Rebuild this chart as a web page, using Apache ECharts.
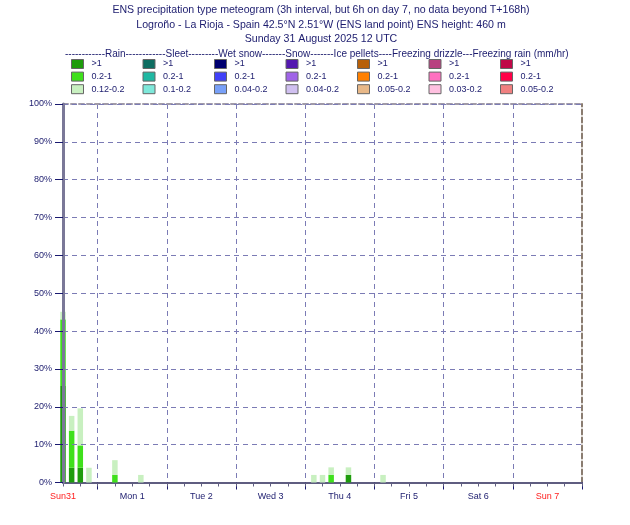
<!DOCTYPE html>
<html>
<head>
<meta charset="utf-8">
<script src="https://cdn.jsdelivr.net/npm/echarts@6/dist/echarts.min.js"></script>
<style>
  html, body { margin: 0; padding: 0; background: #fff; }
  #chart { width: 630px; height: 525px; }
</style>
</head>
<body>
<div id="chart"></div>
<script>
(function () {
    "use strict";
    // hours after Sunday 31 August 12 UTC
    var times = [0, 3, 6, 9, 18, 27, 87, 90, 93, 99, 111];
    // % of members, thickness of each band
    var rainHeavy = [25.5, 3.9, 3.9, 0, 0, 0, 0, 0, 0, 2.0, 0];
    var rainModerate = [17.6, 9.8, 5.9, 0, 2.0, 0, 0, 0, 2.0, 0, 0];
    var rainLight = [2.0, 3.9, 9.8, 3.9, 3.9, 2.0, 2.0, 2.0, 2.0, 2.0, 2.0];
    var dayLabels = ['Sun31', 'Mon 1', 'Tue 2', 'Wed 3', 'Thu 4', 'Fri 5', 'Sat 6', 'Sun 7'];
    var yTicks = [0, 10, 20, 30, 40, 50, 60, 70, 80, 90, 100];

    var types = ['Rain', 'Sleet', 'Wet snow', 'Snow', 'Ice pellets', 'Freezing drizzle', 'Freezing rain'];
    var classLabels = [
        ['>1', '0.2-1', '0.12-0.2'],
        ['>1', '0.2-1', '0.1-0.2'],
        ['>1', '0.2-1', '0.04-0.2'],
        ['>1', '0.2-1', '0.04-0.2'],
        ['>1', '0.2-1', '0.05-0.2'],
        ['>1', '0.2-1', '0.03-0.2'],
        ['>1', '0.2-1', '0.05-0.2']
    ];
    var classColors = [
        ['#1e9c0c', '#3fe01c', '#c8f0c0'],
        ['#0e6e62', '#1fb8a2', '#7ee8da'],
        ['#000070', '#4040f8', '#78a0f8'],
        ['#5418b0', '#a064e8', '#d0c0f0'],
        ['#b86008', '#ff8000', '#e8b888'],
        ['#b84080', '#ff70c0', '#ffc0e0'],
        ['#c00848', '#ff0048', '#f08080']
    ];
    var rainData = [rainHeavy, rainModerate, rainLight];

    var navy = '#1c1c6e';
    var font = 'Liberation Sans';

    // 3-hourly slots over the axis (Sun 12 UTC .. Mon 8 00 UTC)
    var slots = [];
    for (var h = 0; h <= 180; h += 3) slots.push(h);
    function toSlots(vals) {
        var out = slots.map(function () { return 0; });
        times.forEach(function (t, i) { out[t / 3] = vals[i]; });
        return out;
    }
    function isMidnight(i, v) { return +v % 24 === 12; }

    var series = [];
    var legends = [];
    for (var k = 0; k < types.length; k++) {
        var names = [];
        for (var c = 0; c < 3; c++) {
            var nm = types[k] + '|' + classLabels[k][c];
            names.push(nm);
            series.push({
                name: nm,
                type: 'bar',
                stack: 'all',
                xAxisIndex: 0,
                yAxisIndex: 0,
                barWidth: 5.5,
                itemStyle: { color: classColors[k][c] },
                data: k === 0 ? toSlots(rainData[c]) : []
            });
        }
        legends.push({
            orient: 'vertical',
            left: 71 + 71.5 * k,
            top: 59,
            padding: 0,
            itemGap: 2.6,
            itemWidth: 12,
            itemHeight: 9,
            icon: 'rect',
            selectedMode: false,
            itemStyle: { borderColor: '#666', borderWidth: 1 },
            textStyle: { fontSize: 9, fontFamily: font, color: navy, lineHeight: 9, padding: [0, 0, 0, 3] },
            formatter: function (name) { return name.split('|')[1]; },
            data: names
        });
    }

    var chart = echarts.init(document.getElementById('chart'));
    var option = {
        animation: false,
        backgroundColor: '#fff',
        title: [{
            text: 'ENS precipitation type meteogram (3h interval, but 6h on day 7, no data beyond T+168h)\n' +
                'Logroño - La Rioja - Spain 42.5°N 2.51°W (ENS land point) ENS height: 460 m\n' +
                'Sunday 31 August 2025 12 UTC',
            left: 321,
            textAlign: 'center',
            top: 3,
            padding: 0,
            textStyle: { fontSize: 10.6, fontWeight: 'normal', fontFamily: font, color: navy, lineHeight: 14.5 }
        }, {
            text: '------------Rain------------Sleet---------Wet snow-------Snow-------Ice pellets----Freezing drizzle---Freezing rain (mm/hr)',
            left: 65,
            top: 49,
            padding: 0,
            textStyle: { fontSize: 10, fontWeight: 'normal', fontFamily: font, color: navy }
        }],
        legend: legends,
        grid: { left: 63, right: 48, top: 104, bottom: 42.5 },
        xAxis: [{
            type: 'category', position: 'bottom', boundaryGap: false,
            data: slots,
            axisLine: { show: true, lineStyle: { color: '#5f5d80', width: 2 } },
            axisTick: { show: false },
            splitLine: { show: false },
            axisLabel: {
                margin: 10, fontSize: 9, fontFamily: font,
                interval: function (i, v) { return +v % 24 === 0 && +v <= 168; },
                formatter: function (v) { return dayLabels[v / 24]; },
                color: function (v) { return (+v === 0 || +v === 168) ? '#ff2020' : navy; }
            }
        }, {
            // day boundaries (00 UTC)
            type: 'category', position: 'bottom', boundaryGap: false,
            data: slots,
            axisLine: { show: false, onZero: false },
            axisTick: { show: true, length: 7, interval: isMidnight, lineStyle: { color: '#1a1a70', width: 1 } },
            axisLabel: { show: false },
            splitLine: {
                show: true,
                interval: function (i, v) { return isMidnight(i, v) && +v < 180; },
                lineStyle: { color: '#7b7bb5', type: [5, 4], width: 1 }
            }
        }, {
            // 6-hourly ticks
            type: 'category', position: 'bottom', boundaryGap: false,
            data: slots,
            axisLine: { show: false, onZero: false },
            axisTick: { show: true, length: 4, interval: function (i, v) { return +v % 6 === 0; }, lineStyle: { color: '#5f5d80', width: 1 } },
            axisLabel: { show: false },
            splitLine: { show: false }
        }, {
            type: 'value', position: 'top', min: 0, max: 180,
            axisLine: { show: true, onZero: false, lineStyle: { color: '#a09aa8', type: [5, 3], width: 2 } },
            axisTick: { show: false },
            axisLabel: { show: false },
            splitLine: { show: false }
        }],
        yAxis: [{
            type: 'value', position: 'left', min: yTicks[0], max: yTicks[yTicks.length - 1], interval: 10,
            z: 3,
            axisLine: { show: true, onZero: false, lineStyle: { color: '#7a7898', width: 3 } },
            axisTick: { show: true, length: 8, lineStyle: { color: '#1a1a70', width: 1 } },
            axisLabel: { margin: 11, fontSize: 9, fontFamily: font, color: navy, formatter: '{value}%' },
            splitLine: { show: true, showMinLine: false, lineStyle: { color: '#7b7bb5', type: [5, 4], width: 1 } }
        }, {
            type: 'value', position: 'right', min: 0, max: 100,
            axisLine: { show: true, onZero: false, lineStyle: { color: '#8a7c70', type: [5, 3], width: 2 } },
            axisTick: { show: false },
            axisLabel: { show: false },
            splitLine: { show: false }
        }],
        series: series
    };
    chart.setOption(option);
})();
</script>
</body>
</html>
